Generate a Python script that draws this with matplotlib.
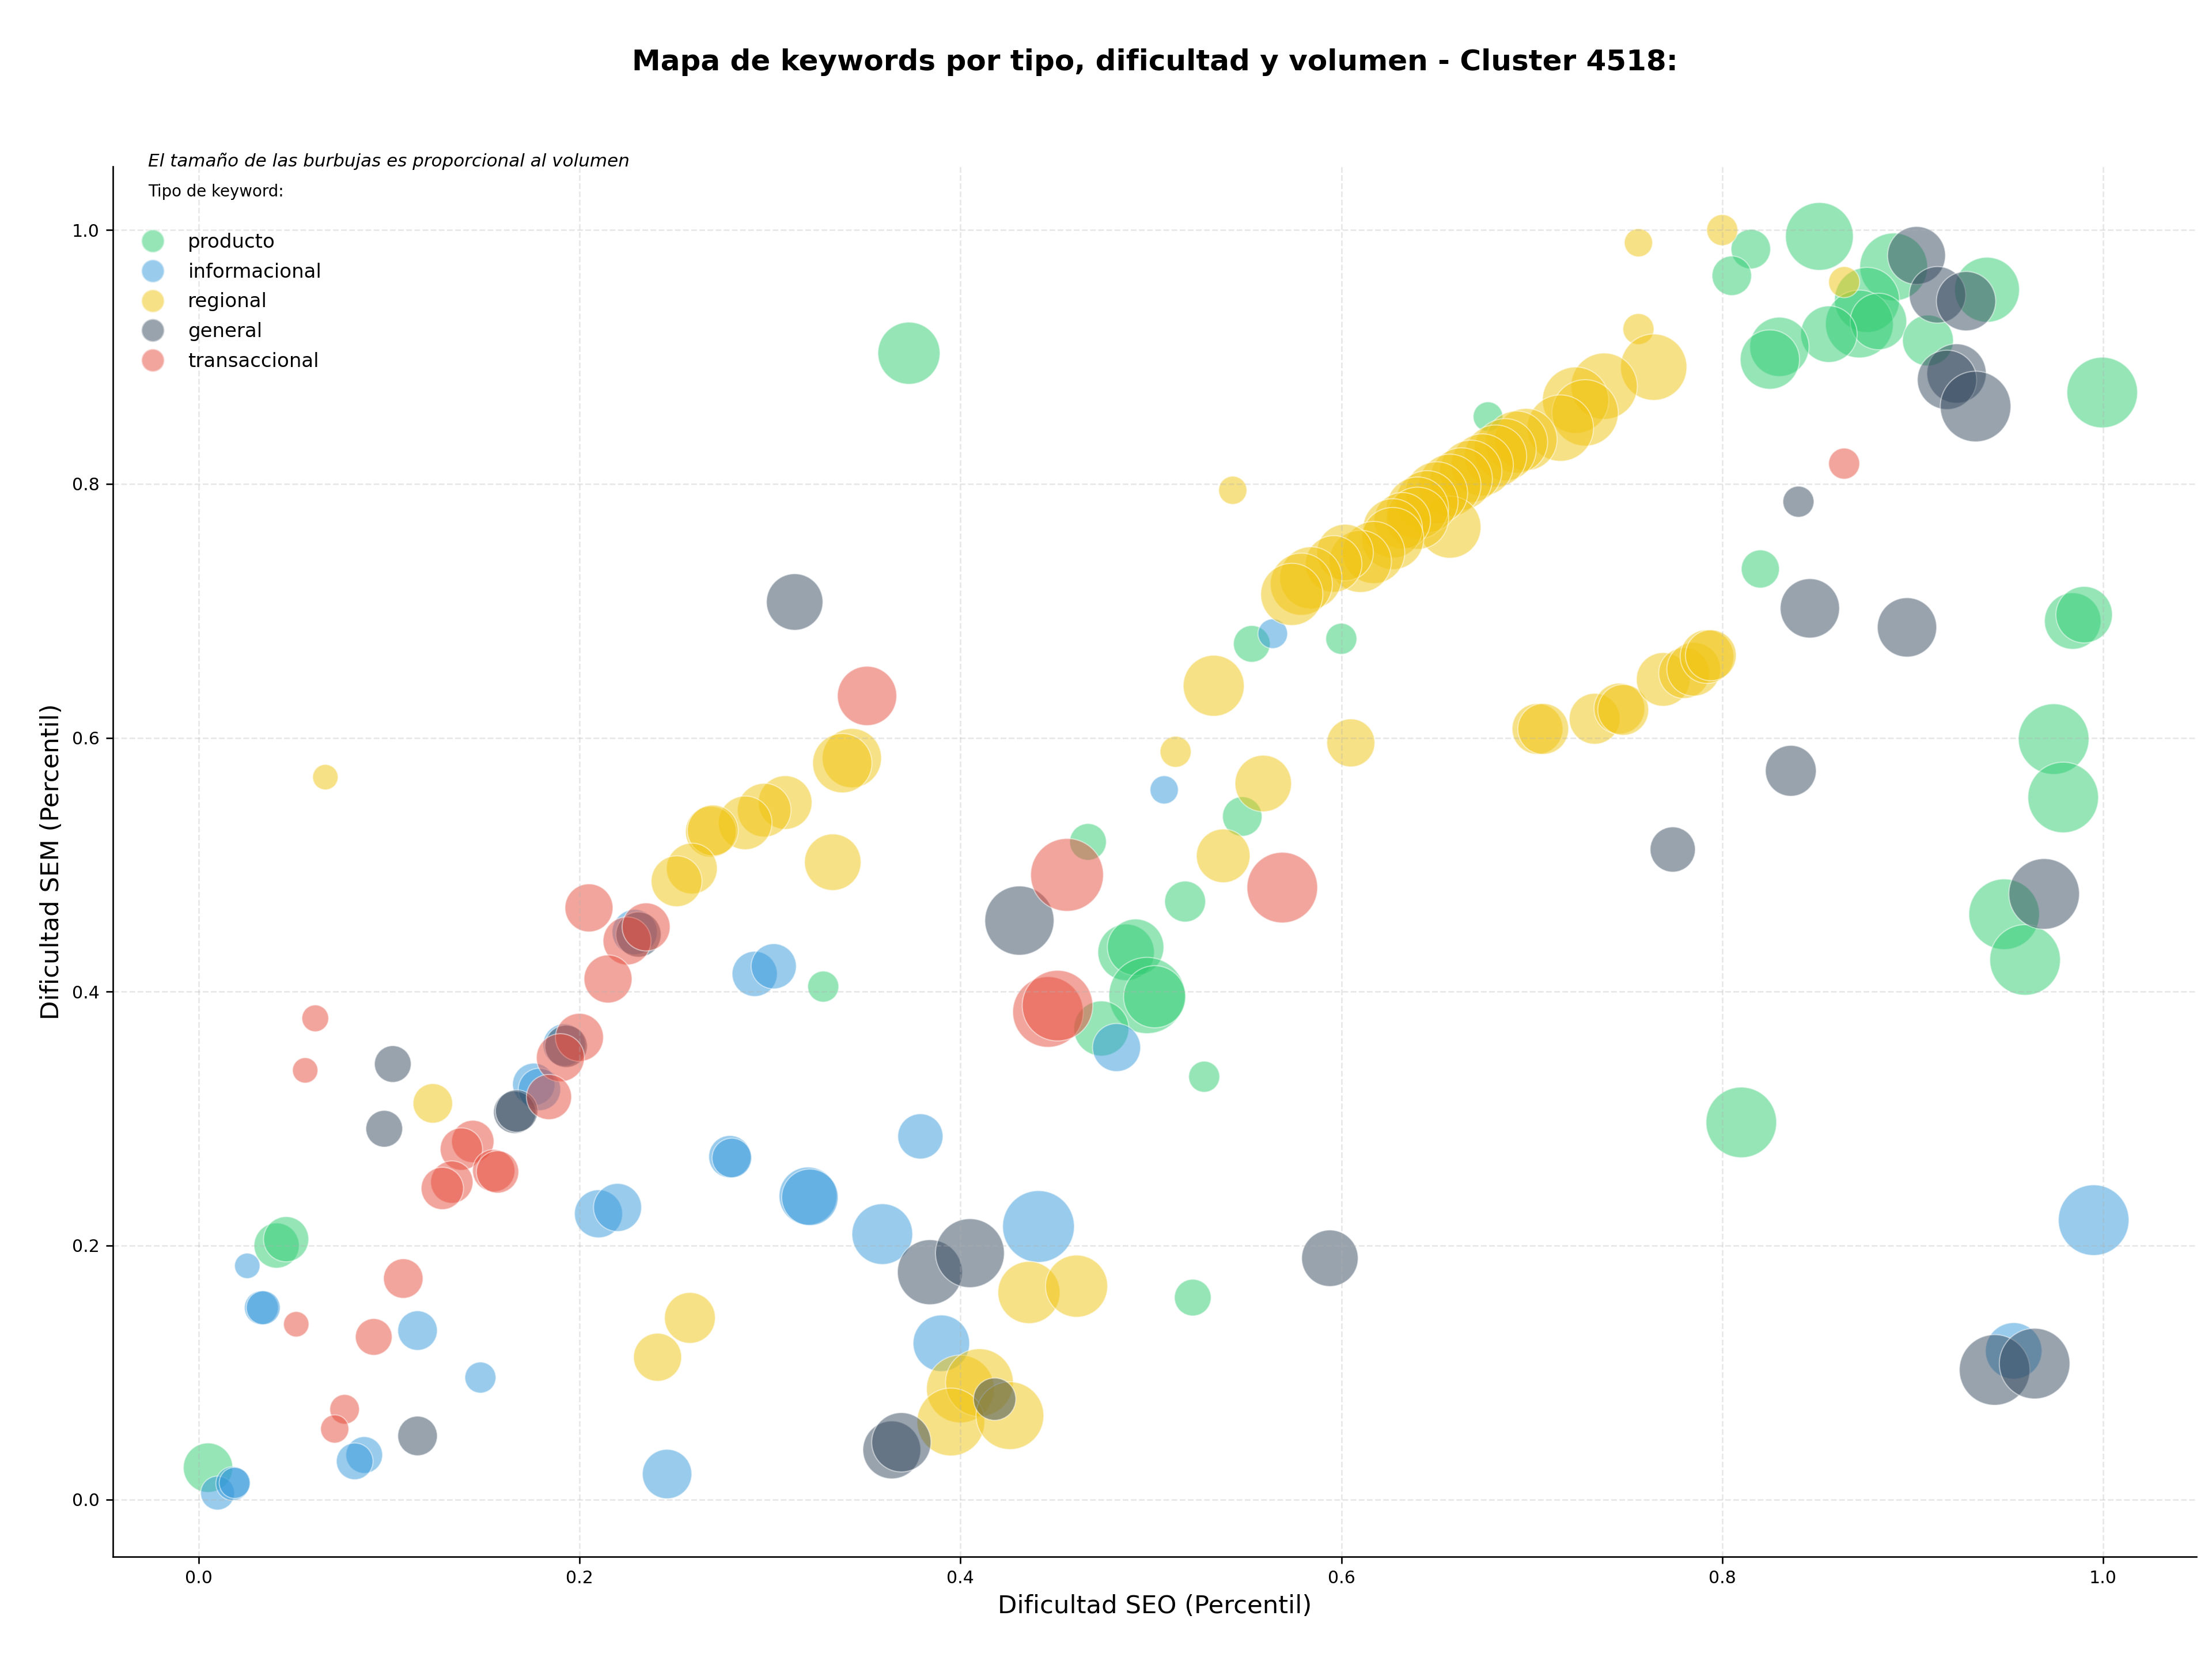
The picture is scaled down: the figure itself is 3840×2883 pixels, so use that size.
import matplotlib
matplotlib.use('Agg')
import matplotlib.pyplot as plt
from matplotlib.lines import Line2D

# datos: dificultad SEO (x), dificultad SEM (y), volumen relativo
prod_x = [0.373, 0.851, 0.815, 0.805, 0.890, 0.876, 0.872, 0.882, 0.856, 0.830,
          0.825, 0.939, 0.908, 0.9995, 0.820, 0.984, 0.990, 0.974, 0.979, 0.948,
          0.959, 0.810, 0.677, 0.553, 0.600, 0.548, 0.518, 0.467, 0.487, 0.492,
          0.498, 0.502, 0.474, 0.528, 0.328, 0.522, 0.041, 0.046, 0.005]
prod_y = [0.903, 0.995, 0.985, 0.964, 0.971, 0.945, 0.926, 0.928, 0.918, 0.908,
          0.898, 0.953, 0.913, 0.872, 0.733, 0.692, 0.697, 0.599, 0.553, 0.461,
          0.425, 0.297, 0.853, 0.674, 0.678, 0.538, 0.471, 0.518, 0.431, 0.435,
          0.397, 0.396, 0.371, 0.333, 0.404, 0.159, 0.200, 0.205, 0.025]
prod_vol = [484, 576, 196, 196, 576, 529, 576, 400, 400, 441,
            441, 529, 324, 625, 182, 400, 400, 625, 625, 625,
            625, 625, 110, 169, 121, 196, 210, 169, 400, 400,
            729, 484, 380, 121, 121, 169, 256, 256, 306]

info_x = [0.564, 0.507, 0.482, 0.292, 0.302, 0.379, 0.320, 0.321, 0.279, 0.280,
          0.359, 0.441, 0.390, 0.210, 0.220, 0.229, 0.176, 0.179, 0.192, 0.0256,
          0.033, 0.034, 0.115, 0.148, 0.087, 0.082, 0.010, 0.018, 0.019, 0.246,
          0.995, 0.953]
info_y = [0.682, 0.559, 0.356, 0.414, 0.420, 0.286, 0.239, 0.238, 0.270, 0.269,
          0.209, 0.215, 0.123, 0.225, 0.230, 0.447, 0.327, 0.323, 0.358, 0.184,
          0.151, 0.151, 0.133, 0.096, 0.035, 0.030, 0.005, 0.0125, 0.013, 0.020,
          0.220, 0.117]
info_vol = [110, 100, 289, 256, 256, 256, 420, 400, 225, 196,
            462, 645, 400, 289, 289, 256, 225, 225, 225, 81,
            144, 144, 196, 121, 169, 169, 144, 144, 121, 306,
            625, 400]

reg_x = [0.0666, 0.123, 0.258, 0.241, 0.436, 0.461, 0.400, 0.410, 0.395, 0.426,
         0.343, 0.338, 0.308, 0.297, 0.287, 0.269, 0.270, 0.259, 0.251, 0.333,
         0.513, 0.543, 0.533, 0.559, 0.538, 0.605, 0.703, 0.706, 0.733, 0.746,
         0.748, 0.769, 0.780, 0.785, 0.792, 0.794, 0.800, 0.864, 0.756, 0.756,
         0.764, 0.738, 0.723, 0.728, 0.715, 0.697, 0.692, 0.686, 0.681, 0.674,
         0.668, 0.663, 0.657, 0.657, 0.650, 0.645, 0.640, 0.640, 0.632, 0.627,
         0.627, 0.617, 0.610, 0.602, 0.596, 0.584, 0.579, 0.574]
reg_y = [0.569, 0.312, 0.143, 0.112, 0.163, 0.168, 0.087, 0.092, 0.061, 0.066,
         0.584, 0.580, 0.549, 0.543, 0.533, 0.526, 0.527, 0.497, 0.487, 0.502,
         0.589, 0.795, 0.641, 0.564, 0.507, 0.596, 0.607, 0.607, 0.615, 0.623,
         0.622, 0.646, 0.651, 0.654, 0.664, 0.665, 1.000, 0.959, 0.990, 0.922,
         0.892, 0.877, 0.866, 0.856, 0.844, 0.835, 0.833, 0.827, 0.822, 0.815,
         0.810, 0.804, 0.799, 0.766, 0.793, 0.786, 0.781, 0.773, 0.771, 0.765,
         0.757, 0.746, 0.739, 0.746, 0.737, 0.726, 0.721, 0.713]
reg_vol = [81, 196, 324, 289, 484, 484, 576, 576, 576, 576,
           441, 441, 361, 361, 361, 324, 324, 324, 324, 400,
           121, 100, 466, 400, 361, 289, 324, 324, 324, 324,
           324, 361, 324, 361, 361, 324, 121, 121, 100, 121,
           552, 552, 552, 552, 552, 484, 484, 484, 484, 484,
           484, 484, 484, 484, 484, 484, 484, 484, 400, 441,
           484, 484, 484, 400, 400, 484, 484, 484]

gen_x = [0.902, 0.913, 0.928, 0.923, 0.918, 0.933, 0.840, 0.846, 0.897, 0.836,
         0.774, 0.969, 0.943, 0.964, 0.594, 0.431, 0.313, 0.384, 0.405, 0.418,
         0.364, 0.369, 0.231, 0.193, 0.166, 0.167, 0.102, 0.0975, 0.115]
gen_y = [0.980, 0.949, 0.944, 0.887, 0.882, 0.861, 0.786, 0.702, 0.687, 0.574,
         0.512, 0.477, 0.102, 0.107, 0.190, 0.456, 0.707, 0.179, 0.194, 0.079,
         0.039, 0.045, 0.445, 0.357, 0.305, 0.306, 0.343, 0.292, 0.050]
gen_vol = [420, 400, 441, 441, 441, 625, 121, 441, 441, 324,
           256, 625, 625, 625, 400, 600, 400, 529, 595, 225,
           420, 441, 256, 225, 225, 225, 169, 169, 196]

trans_x = [0.864, 0.351, 0.456, 0.569, 0.446, 0.451, 0.205, 0.225, 0.235, 0.215,
           0.200, 0.190, 0.184, 0.0613, 0.056, 0.144, 0.138, 0.133, 0.128, 0.155,
           0.157, 0.0513, 0.1075, 0.092, 0.0767, 0.0715]
trans_y = [0.816, 0.633, 0.492, 0.482, 0.384, 0.389, 0.466, 0.440, 0.451, 0.410,
           0.364, 0.348, 0.317, 0.379, 0.338, 0.282, 0.276, 0.250, 0.245, 0.259,
           0.258, 0.138, 0.174, 0.128, 0.071, 0.0555]
trans_vol = [121, 441, 665, 625, 625, 625, 289, 289, 289, 289,
             289, 289, 256, 90, 81, 225, 225, 225, 225, 225,
             225, 81, 196, 169, 110, 100]

tipos = ['producto', 'informacional', 'regional', 'general', 'transaccional']
colores = ['#2ecc71', '#3498db', '#f1c40f', '#34495e', '#e74c3c']
datos = [(prod_x, prod_y, prod_vol), (info_x, info_y, info_vol),
         (reg_x, reg_y, reg_vol), (gen_x, gen_y, gen_vol),
         (trans_x, trans_y, trans_vol)]

escala = 2.16  # volumen relativo -> area del marcador

fig, ax = plt.subplots(figsize=(16, 12.0125), dpi=240)

for tipo, color, (xs, ys, vols) in zip(tipos, colores, datos):
    ax.scatter(xs, ys, s=[v * escala for v in vols], c=color, alpha=0.5,
               edgecolors='white', linewidths=0.6, label=tipo)

ax.set_xlim(-0.045, 1.049)
ax.set_ylim(-0.045, 1.05)
ax.grid(True, linestyle='--', alpha=0.3)
ax.spines['top'].set_visible(False)
ax.spines['right'].set_visible(False)
ax.tick_params(labelsize=9)

ax.set_xlabel('Dificultad SEO (Percentil)', fontsize=13)
ax.set_ylabel('Dificultad SEM (Percentil)', fontsize=13)
ax.set_title('Mapa de keywords por tipo, dificultad y volumen - Cluster 4518:',
             fontsize=15, fontweight='bold', pad=50)

ax.text(0.017, 1.004, 'El tamaño de las burbujas es proporcional al volumen',
        transform=ax.transAxes, fontsize=9.3, style='italic', va='center', ha='left')
ax.text(0.017, 0.982, 'Tipo de keyword:', transform=ax.transAxes,
        fontsize=8.3, va='center', ha='left')

handles = [Line2D([0], [0], marker='o', linestyle='', markerfacecolor=c,
                  markeredgecolor='white', alpha=0.5, markersize=12)
           for c in colores]
ax.legend(handles, tipos, loc='upper left', bbox_to_anchor=(0.006, 0.958),
          borderaxespad=0, frameon=False, fontsize=10.2, labelspacing=0.55)

plt.subplots_adjust(left=0.051, right=0.993, top=0.8997, bottom=0.0629)
fig.savefig('out.png', dpi=240)
